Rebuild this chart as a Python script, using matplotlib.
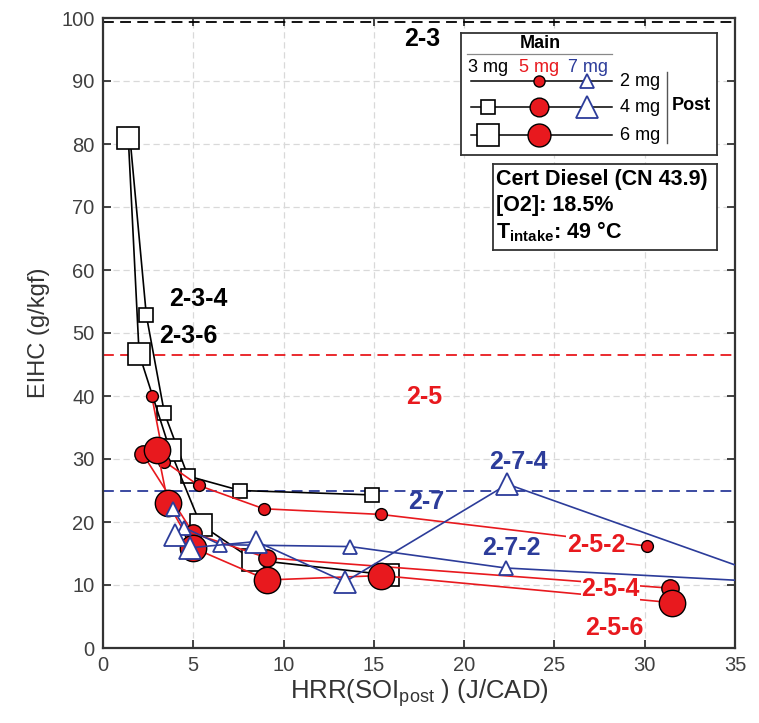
import matplotlib
matplotlib.use("Agg")
import matplotlib.pyplot as plt

plt.rcParams['font.family'] = ['Liberation Sans', 'DejaVu Sans']
plt.rcParams['mathtext.fontset'] = 'custom'
plt.rcParams['mathtext.rm'] = 'Liberation Sans'
plt.rcParams['mathtext.bf'] = 'Liberation Sans:bold'

# ---- data: EIHC vs HRR at start of post injection ----
# main 3 mg
s234_x = [1.5, 2.4, 3.4, 4.7, 7.6, 14.9]
s234_y = [80.8, 52.8, 37.3, 27.3, 25.0, 24.3]
s236_x = [1.4, 2.0, 3.7, 5.4, 8.3, 15.8]
s236_y = [81.0, 46.7, 31.5, 19.6, 14.0, 11.6]
# main 5 mg
s252_x = [2.7, 3.4, 5.3, 8.9, 15.4, 30.1]
s252_y = [40.0, 29.6, 25.8, 22.1, 21.2, 16.2]
s254_x = [2.2, 5.0, 9.1, 31.4]
s254_y = [30.8, 18.2, 14.3, 9.5]
s256_x = [3.0, 3.6, 5.0, 9.1, 15.4, 31.5]
s256_y = [31.5, 23.0, 15.9, 10.8, 11.5, 7.2]
# main 7 mg
s272_x = [3.9, 4.5, 6.5, 13.7, 22.3, 40.0]
s272_y = [22.0, 19.1, 16.4, 16.1, 12.7, 10.0]
s274_x = [4.0, 4.8, 8.5, 13.4, 22.4, 40.0]
s274_y = [18.0, 15.9, 16.9, 10.5, 26.0, 8.1]

# single-injection reference levels
ref_23 = 99.3
ref_25 = 46.5
ref_27 = 25.0

xticks = [0, 5, 10, 15, 20, 25, 30, 35]
yticks = [0, 10, 20, 30, 40, 50, 60, 70, 80, 90, 100]

RED = '#E8191E'
BLUE = '#2C3C9A'
BLACK = '#000000'

fig = plt.figure(figsize=(7.59, 7.23), dpi=100)
ax = fig.add_axes([103/759, 1-648/723, 632/759, 630/723])

ax.set_xlim(0, 35)
ax.set_ylim(0, 100)
ax.set_xticks(xticks)
ax.set_yticks(yticks)
ax.grid(True, linestyle=(0, (5, 3)), color='#d9d9d9', linewidth=0.9)
ax.set_axisbelow(True)
ax.tick_params(direction='in', top=True, right=True, length=6, width=1.3,
               color='#333333', labelsize=14.5, labelcolor='#404040', pad=6)
for sp in ax.spines.values():
    sp.set_linewidth(1.6)
    sp.set_color('#333333')

# reference dashed lines
ax.axhline(ref_23, color=BLACK, lw=1.3, dashes=(6, 3.5), zorder=2)
ax.axhline(ref_25, color=RED, lw=1.3, dashes=(6, 3.5), zorder=2)
ax.axhline(ref_27, color=BLUE, lw=1.3, dashes=(6, 3.5), zorder=2)

lw = 1.2
# 3 mg main (squares)
ax.plot(s234_x, s234_y, '-s', color=BLACK, lw=lw, ms=9.5, mfc='white', mec=BLACK, mew=1.2, zorder=3)
ax.plot(s236_x, s236_y, '-s', color=BLACK, lw=lw, ms=16.5, mfc='white', mec=BLACK, mew=1.2, zorder=3)
# 5 mg main (circles)
ax.plot(s252_x, s252_y, '-o', color=RED, lw=lw, ms=8.5, mfc=RED, mec=BLACK, mew=1.0, zorder=4)
ax.plot(s254_x, s254_y, '-o', color=RED, lw=lw, ms=12.5, mfc=RED, mec=BLACK, mew=1.0, zorder=4)
ax.plot(s256_x, s256_y, '-o', color=RED, lw=lw, ms=19, mfc=RED, mec=BLACK, mew=1.0, zorder=4)
# 7 mg main (triangles)
ax.plot(s272_x, s272_y, '-^', color=BLUE, lw=lw, ms=10, mfc='white', mec=BLUE, mew=1.3, zorder=5)
ax.plot(s274_x, s274_y, '-^', color=BLUE, lw=lw, ms=15.5, mfc='white', mec=BLUE, mew=1.3, zorder=5)

ax.set_xlabel(r'HRR(SOI$_{\mathrm{post}}$ ) (J/CAD)', fontsize=18.5, color='#333333', labelpad=1)
ax.set_ylabel('EIHC (g/kgf)', fontsize=17, color='#333333', labelpad=8)

# series labels
lab = dict(fontsize=18, fontweight='bold', ha='center', va='center', zorder=6)
ax.text(17.7, 96.7, '2-3', color=BLACK, **lab)
ax.text(5.3, 55.4, '2-3-4', color=BLACK, **lab)
ax.text(4.7, 49.5, '2-3-6', color=BLACK, **lab)
ax.text(17.8, 39.8, '2-5', color=RED, **lab)
ax.text(17.9, 23.2, '2-7', color=BLUE, **lab)
ax.text(23.0, 29.6, '2-7-4', color=BLUE, **lab)
ax.text(22.6, 15.9, '2-7-2', color=BLUE, **lab)
bb = dict(facecolor='white', edgecolor='none', pad=0.3)
ax.text(27.3, 16.4, '2-5-2', color=RED, bbox=bb, **lab)
ax.text(28.1, 9.4, '2-5-4', color=RED, bbox=bb, **lab)
ax.text(28.3, 3.2, '2-5-6', color=RED, **lab)

# ---- marker key box ----
lg = fig.add_axes([461/759, 1-155/723, 256/759, 122/723])
lg.set_xlim(461, 717)
lg.set_ylim(155, 33)
lg.set_xticks([])
lg.set_yticks([])
for sp in lg.spines.values():
    sp.set_linewidth(1.3)
    sp.set_color('#333333')
kt = dict(fontsize=13, va='center')
lg.text(540, 44, 'Main', fontweight='bold', ha='center', **kt)
lg.plot([467, 612], [54, 54], color='#888888', lw=0.9)
lg.text(488, 67, '3 mg', color=BLACK, ha='center', **kt)
lg.text(539, 67, '5 mg', color=RED, ha='center', **kt)
lg.text(588, 67, '7 mg', color=BLUE, ha='center', **kt)
rows_y = [81, 107, 135]
post_lab = ['2 mg', '4 mg', '6 mg']
sq_ms = [None, 9.5, 16.5]
ci_ms = [8.0, 13.5, 16.5]
tr_ms = [10.5, 16.5, None]
for yy, pl, a, b, c in zip(rows_y, post_lab, sq_ms, ci_ms, tr_ms):
    lg.plot([471, 612], [yy, yy], color=BLACK, lw=1.1)
    if a:
        lg.plot([488], [yy], 's', ms=a, mfc='white', mec=BLACK, mew=1.2)
    if b:
        lg.plot([539], [yy], 'o', ms=b, mfc=RED, mec=BLACK, mew=1.0)
    if c:
        lg.plot([587], [yy], '^', ms=c, mfc='white', mec=BLUE, mew=1.3)
    lg.text(620, yy, pl, ha='left', **kt)
lg.plot([667, 667], [72, 143], color='#555555', lw=1.0)
lg.text(672, 105, 'Post', fontweight='bold', ha='left', **kt)

# ---- operating condition box ----
ib = fig.add_axes([493/759, 1-250/723, 224/759, 86/723])
ib.set_xlim(493, 717)
ib.set_ylim(250, 164)
ib.set_xticks([])
ib.set_yticks([])
for sp in ib.spines.values():
    sp.set_linewidth(1.3)
    sp.set_color('#333333')
it = dict(fontsize=15.5, fontweight='bold', ha='left', va='center')
ib.text(496, 179, 'Cert Diesel (CN 43.9)', **it)
ib.text(496, 205, '[O2]: 18.5%', **it)
ib.text(496, 232, r'T$_{\mathbf{intake}}$: 49 °C', **it)

fig.savefig('out.png', dpi=100, facecolor='white')
